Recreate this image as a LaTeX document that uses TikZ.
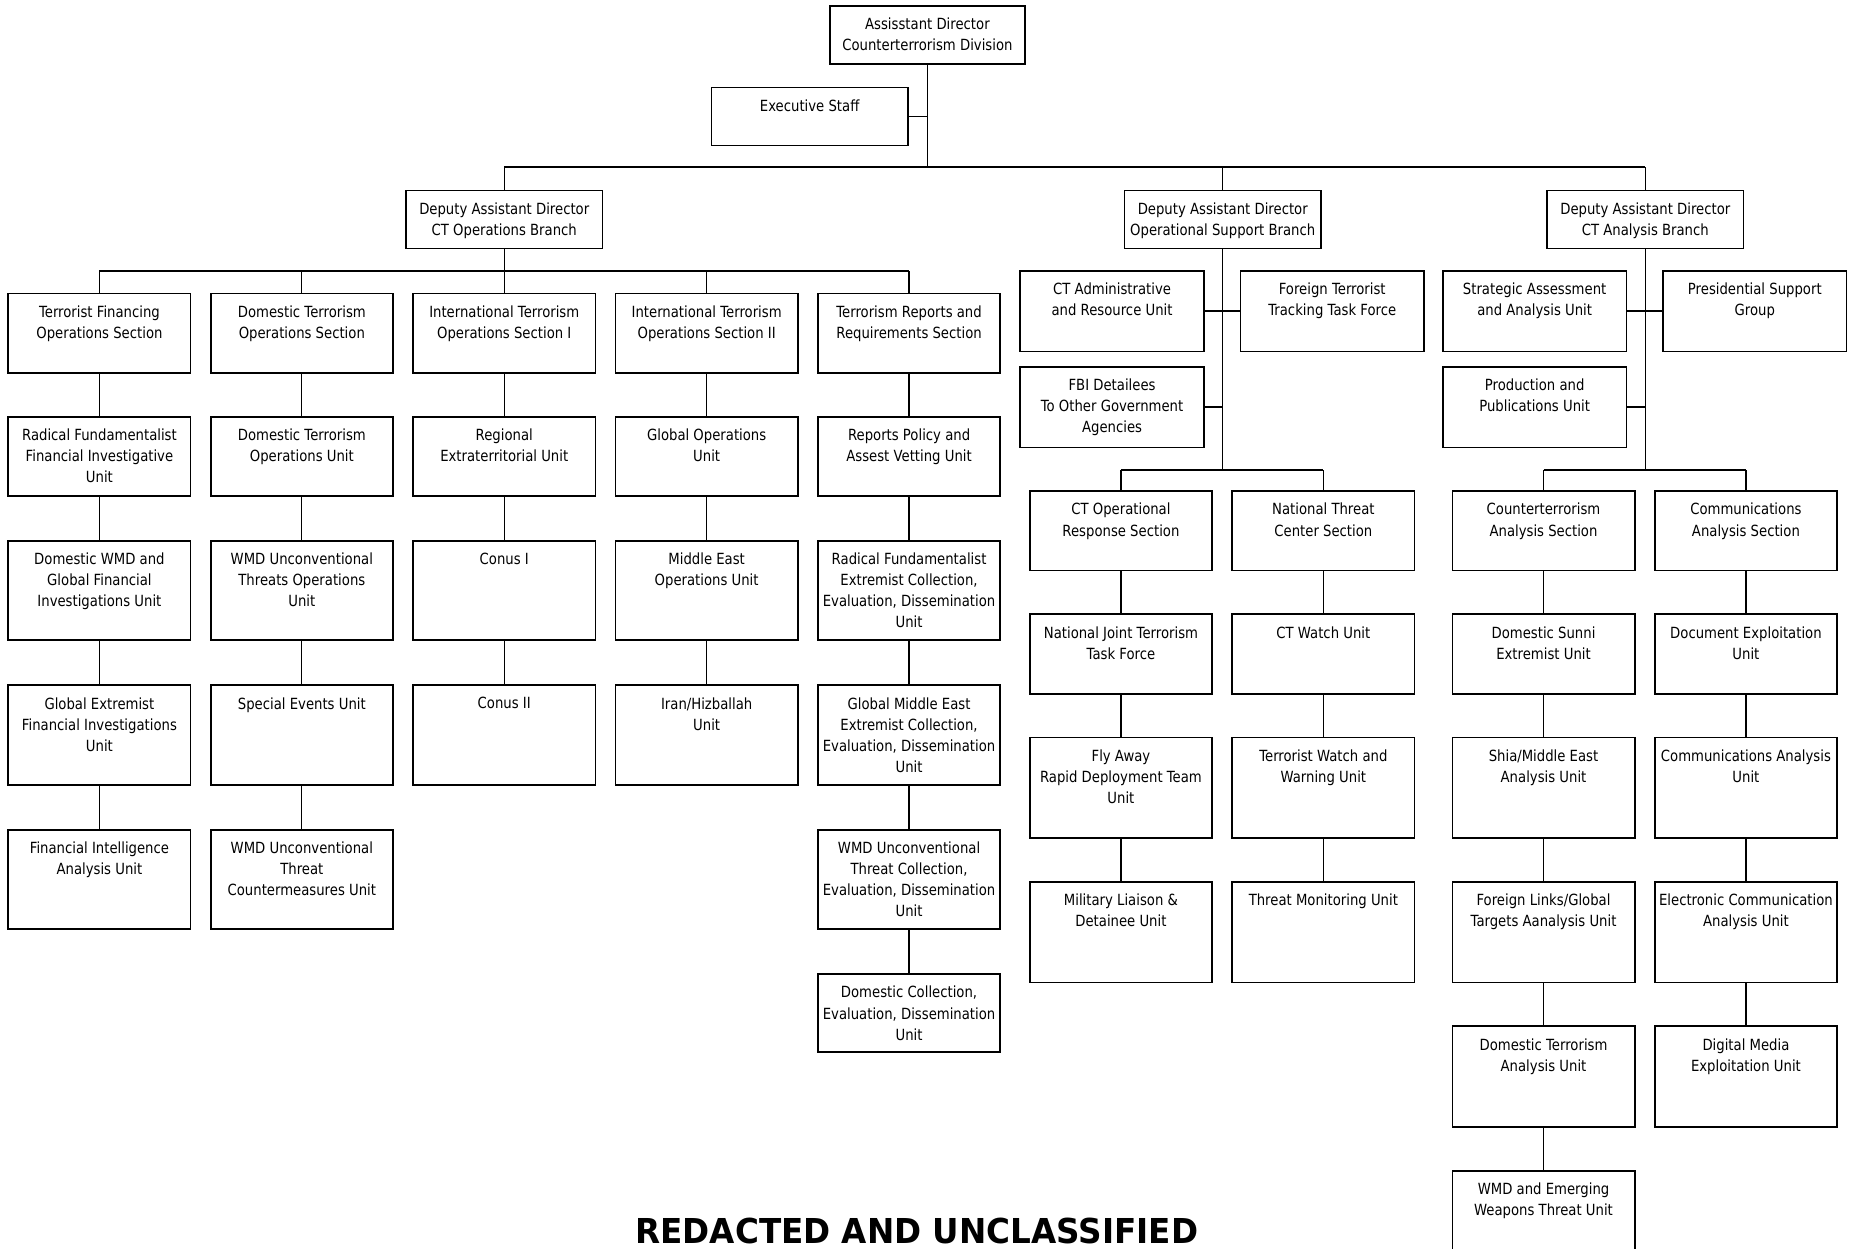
\documentclass[tikz,border=0pt]{standalone}
\usepackage{fontspec}
\newfontfamily\boxfont[FakeStretch=0.86]{DejaVu Sans}
\newfontfamily\footfont[FakeStretch=0.95]{DejaVu Sans}
\tikzset{
  boxst/.style={draw=black, line width=1.5pt, fill=white, inner sep=0pt, outer sep=0pt, rectangle},
  txt/.style={align=center, inner sep=0pt, font=\boxfont\fontsize{13}{17.8}\selectfont},
  conn/.style={draw=black, line width=1.1pt},
  bus/.style={draw=black, line width=1.7pt},
}
% name, cx, top, width, height, text
\newcommand\obox[6]{%
  \node[boxst, minimum width=#4pt, minimum height=#5pt, anchor=north] (#1) at (#2,#3) {};
  \node[txt, anchor=north] (#1t) at ([yshift=-10pt]#1.north) {#6};
}
\begin{document}
\begin{tikzpicture}[x=1pt,y=-1pt]
\useasboundingbox (0,0) rectangle (1568,1055);

% top level
\obox{ad}{783.5}{5}{165}{49}{Assisstant Director\\Counterterrorism Division}
\obox{exec}{684}{74}{166}{49}{Executive Staff}
\obox{ctops}{426}{161}{166}{49}{Deputy Assistant Director\\CT Operations Branch}
\obox{osb}{1033}{161}{166}{49}{Deputy Assistant Director\\Operational Support Branch}
\obox{cta}{1390}{161}{166}{49}{Deputy Assistant Director\\CT Analysis Branch}

\coordinate (top) at (783.5,141);
\draw[conn] (ad.south) -- (top);
\draw[conn] (exec.east) -- (exec.east -| top);
\draw[bus] (ctops.north |- top) -- (cta.north |- top);
\draw[conn] (ctops.north) -- (ctops.north |- top);
\draw[conn] (osb.north) -- (osb.north |- top);
\draw[conn] (cta.north) -- (cta.north |- top);

% CT Operations Branch
\obox{a1}{84}{248}{154}{67}{Terrorist Financing\\Operations Section}
\obox{a2}{84}{352}{154}{67}{Radical Fundamentalist\\Financial Investigative\\Unit}
\obox{a3}{84}{457}{154}{84}{Domestic WMD and\\Global Financial\\Investigations Unit}
\obox{a4}{84}{579}{154}{84}{Global Extremist\\Financial Investigations\\Unit}
\obox{a5}{84}{701}{154}{84}{Financial Intelligence\\Analysis Unit}

\obox{b1}{255}{248}{154}{67}{Domestic Terrorism\\Operations Section}
\obox{b2}{255}{352}{154}{67}{Domestic Terrorism\\Operations Unit}
\obox{b3}{255}{457}{154}{84}{WMD Unconventional\\Threats Operations\\Unit}
\obox{b4}{255}{579}{154}{84}{Special Events Unit}
\obox{b5}{255}{701}{154}{84}{WMD Unconventional\\Threat\\Countermeasures Unit}

\obox{c1}{426}{248}{154}{67}{International Terrorism\\Operations Section I}
\obox{c2}{426}{352}{154}{67}{Regional\\Extraterritorial Unit}
\obox{c3}{426}{457}{154}{84}{Conus I}
\obox{c4}{426}{579}{154}{84}{Conus II}

\obox{d1}{597}{248}{154}{67}{International Terrorism\\Operations Section II}
\obox{d2}{597}{352}{154}{67}{Global Operations\\Unit}
\obox{d3}{597}{457}{154}{84}{Middle East\\Operations Unit}
\obox{d4}{597}{579}{154}{84}{Iran/Hizballah\\Unit}

\obox{e1}{768}{248}{154}{67}{Terrorism Reports and\\Requirements Section}
\obox{e2}{768}{352}{154}{67}{Reports Policy and\\Assest Vetting Unit}
\obox{e3}{768}{457}{154}{84}{Radical Fundamentalist\\Extremist Collection,\\Evaluation, Dissemination\\Unit}
\obox{e4}{768}{579}{154}{84}{Global Middle East\\Extremist Collection,\\Evaluation, Dissemination\\Unit}
\obox{e5}{768}{701}{154}{84}{WMD Unconventional\\Threat Collection,\\Evaluation, Dissemination\\Unit}
\obox{e6}{768}{823}{154}{66}{Domestic Collection,\\Evaluation, Dissemination\\Unit}

\coordinate (opsbus) at (426,229);
\draw[conn] (ctops.south) -- (opsbus);
\draw[bus] (a1.north |- opsbus) -- (e1.north |- opsbus);
\foreach \n in {a1,b1,c1,d1,e1} \draw[conn] (\n.north) -- (\n.north |- opsbus);
\draw[conn] (a1) -- (a2) (a2) -- (a3) (a3) -- (a4) (a4) -- (a5);
\draw[conn] (b1) -- (b2) (b2) -- (b3) (b3) -- (b4) (b4) -- (b5);
\draw[conn] (c1) -- (c2) (c2) -- (c3) (c3) -- (c4);
\draw[conn] (d1) -- (d2) (d2) -- (d3) (d3) -- (d4);
\draw[conn] (e1) -- (e2) (e2) -- (e3) (e3) -- (e4) (e4) -- (e5) (e5) -- (e6);

% Operational Support Branch
\obox{ctadm}{939.5}{229}{155}{68}{CT Administrative\\and Resource Unit}
\obox{ftt}{1125.5}{229}{155}{68}{Foreign Terrorist\\Tracking Task Force}
\obox{fbi}{939.5}{310}{155}{68}{FBI Detailees\\To Other Government\\Agencies}

\obox{f1}{947}{415}{154}{67}{CT Operational\\Response Section}
\obox{f2}{947}{519}{154}{67}{National Joint Terrorism\\Task Force}
\obox{f3}{947}{623}{154}{85}{Fly Away\\Rapid Deployment Team\\Unit}
\obox{f4}{947}{745}{154}{85}{Military Liaison \&\\Detainee Unit}

\obox{g1}{1118}{415}{154}{67}{National Threat\\Center Section}
\obox{g2}{1118}{519}{154}{67}{CT Watch Unit}
\obox{g3}{1118}{623}{154}{85}{Terrorist Watch and\\Warning Unit}
\obox{g4}{1118}{745}{154}{85}{Threat Monitoring Unit}

\coordinate (osbbus) at (1033,397);
\draw[conn] (osb.south) -- (osbbus);
\draw[bus] (ctadm.east) -- (ctadm.east -| osbbus);
\draw[bus] (ftt.west) -- (ftt.west -| osbbus);
\draw[bus] (fbi.east) -- (fbi.east -| osbbus);
\draw[bus] (f1.north |- osbbus) -- (g1.north |- osbbus);
\foreach \n in {f1,g1} \draw[conn] (\n.north) -- (\n.north |- osbbus);
\draw[conn] (f1) -- (f2) (f2) -- (f3) (f3) -- (f4);
\draw[conn] (g1) -- (g2) (g2) -- (g3) (g3) -- (g4);

% CT Analysis Branch
\obox{ssa}{1296.5}{229}{155}{68}{Strategic Assessment\\and Analysis Unit}
\obox{psg}{1482.5}{229}{155}{68}{Presidential Support\\Group}
\obox{ppu}{1296.5}{310}{155}{68}{Production and\\Publications Unit}

\obox{h1}{1304}{415}{154}{67}{Counterterrorism\\Analysis Section}
\obox{h2}{1304}{519}{154}{67}{Domestic Sunni\\Extremist Unit}
\obox{h3}{1304}{623}{154}{85}{Shia/Middle East\\Analysis Unit}
\obox{h4}{1304}{745}{154}{85}{Foreign Links/Global\\Targets Aanalysis Unit}
\obox{h5}{1304}{867}{154}{85}{Domestic Terrorism\\Analysis Unit}
\obox{h6}{1304}{989}{154}{85}{WMD and Emerging\\Weapons Threat Unit}

\obox{k1}{1475}{415}{154}{67}{Communications\\Analysis Section}
\obox{k2}{1475}{519}{154}{67}{Document Exploitation\\Unit}
\obox{k3}{1475}{623}{154}{85}{Communications Analysis\\Unit}
\obox{k4}{1475}{745}{154}{85}{Electronic Communication\\Analysis Unit}
\obox{k5}{1475}{867}{154}{85}{Digital Media\\Exploitation Unit}

\coordinate (ctabus) at (1390,397);
\draw[conn] (cta.south) -- (ctabus);
\draw[bus] (ssa.east) -- (ssa.east -| ctabus);
\draw[bus] (psg.west) -- (psg.west -| ctabus);
\draw[bus] (ppu.east) -- (ppu.east -| ctabus);
\draw[bus] (h1.north |- ctabus) -- (k1.north |- ctabus);
\foreach \n in {h1,k1} \draw[conn] (\n.north) -- (\n.north |- ctabus);
\draw[conn] (h1) -- (h2) (h2) -- (h3) (h3) -- (h4) (h4) -- (h5) (h5) -- (h6);
\draw[conn] (k1) -- (k2) (k2) -- (k3) (k3) -- (k4) (k4) -- (k5);

% footer
\node[inner sep=0pt, font=\footfont\bfseries\fontsize{29}{30}\selectfont] (foot) at (774.5,1040) {REDACTED AND UNCLASSIFIED};
\end{tikzpicture}
\end{document}
